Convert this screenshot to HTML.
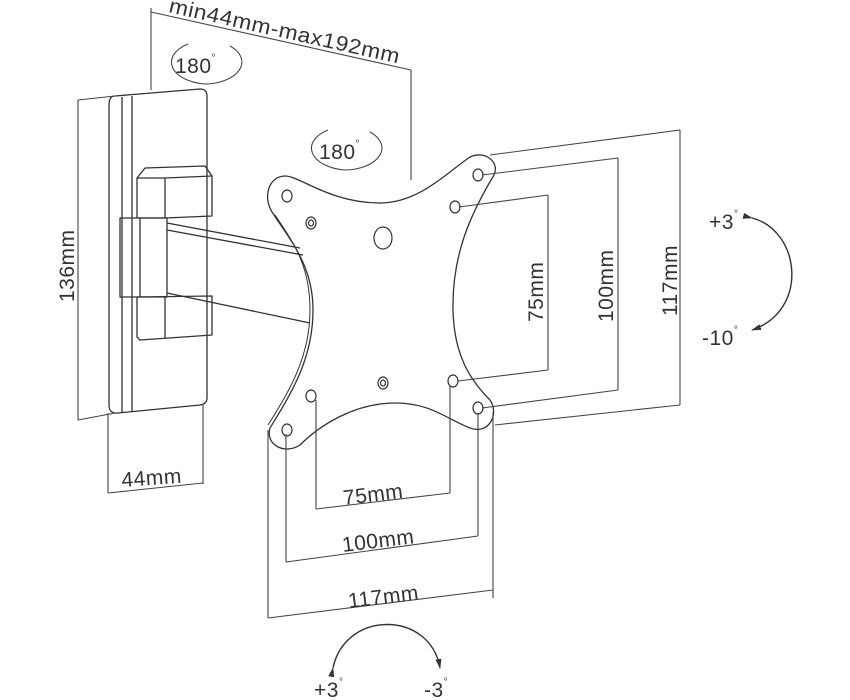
<!DOCTYPE html>
<html><head><meta charset="utf-8"><style>
html,body{margin:0;padding:0;background:#fff}
svg{display:block}
text{font-family:"Liberation Sans",sans-serif;fill:#333;font-size:21px;letter-spacing:0.5px}
</style></head><body>
<svg width="850" height="700" viewBox="0 0 850 700" xmlns="http://www.w3.org/2000/svg">
<defs>
<marker id="ah" markerWidth="10" markerHeight="8" refX="9" refY="4" orient="auto" markerUnits="userSpaceOnUse"><path d="M0,1 L10,4 L0,7 Z" fill="#333"/></marker>
</defs>
<g fill="none" stroke="#333" stroke-width="1.3" stroke-linejoin="round">
<path d="M115,96 L200,89 Q207,89 207,96 L207,398 Q207,404 200,405 L118,413 Q109,414 109,405 L109,105 Q109,96 115,96 Z"/>
<path d="M122,97 L122,412 M132,96 L132,411"/>
<path d="M137,178 L145,168 L205,166 L212,176 L212,216 L165,218 L137,218 Z"/>
<path d="M137,178 L165,178 L212,176 M165,178 L165,218"/>
<path d="M120,218 L167,218 L167,297 L120,297 Z M140,218 L140,297"/>
<path d="M167,223 L300,248 M167,230 L303,255 M167,293 L310,323"/>
<path d="M137,297 L212,296 L212,335 L140,340 L137,337 Z M165,297 L165,338"/>
<path d="M285,176 C300,176 330,203 380,203 C420,203 450,170 470,157 C485,150 500,162 494,175 C470,215 452,255 453,310 C454,355 470,380 490,400 C500,415 488,435 470,428 C445,418 430,403 395,403 C355,403 320,425 300,445 C285,455 265,445 270,428 C290,395 313,360 313,310 C313,265 290,240 272,212 C262,195 270,176 285,176 Z"/>
<path d="M275,215 C293,242 310,265 310,310 C310,358 288,393 268,425" stroke-width="1"/>
<g stroke-width="1.2">
<ellipse cx="287" cy="196" rx="5" ry="6"/>
<ellipse cx="311" cy="223" rx="5" ry="6"/><ellipse cx="311" cy="223" rx="2.5" ry="3"/>
<ellipse cx="383" cy="238" rx="9" ry="11"/>
<ellipse cx="478" cy="175" rx="5" ry="6"/>
<ellipse cx="455" cy="207" rx="5" ry="6"/>
<ellipse cx="311" cy="396" rx="5" ry="6"/>
<ellipse cx="383" cy="383" rx="5" ry="6"/><ellipse cx="383" cy="383" rx="2.5" ry="3"/>
<ellipse cx="453" cy="381" rx="5" ry="6"/>
<ellipse cx="478" cy="408" rx="5" ry="6"/>
<ellipse cx="287" cy="430" rx="5" ry="6"/>
</g>
</g>
<g fill="none" stroke="#444" stroke-width="1.1">
<path d="M78,100 L115,96 M78,420 L115,413 M78,100 L78,420"/>
<path d="M151,8 L151,90 M411,70 L411,180 M151,12 L411,70"/>
<path d="M108,413 L108,493 M203,404 L203,484 M108,493 L203,483"/>
<path d="M316,400 L316,509 M450,386 L450,493 M316,509 L450,493"/>
<path d="M286,434 L286,562 M478,413 L478,536 M286,562 L478,536"/>
<path d="M268,430 L268,618 M493,412 L493,598 M268,618 L493,590"/>
<path d="M459,207 L548,195 M548,195 L548,370 M458,381 L548,370"/>
<path d="M482,175 L618,158 M618,158 L618,390 M482,408 L618,390"/>
<path d="M490,155 L680,130 M680,130 L680,405 M495,425 L680,405"/>
<path d="M188,44 A38,22 0 0 0 205,84 A38,22 0 0 0 230,46"/>
<path d="M328,130 A38,22 0 0 0 345,170 A38,22 0 0 0 370,132"/>
</g>
<g fill="none" stroke="#333" stroke-width="1.4">
<path d="M752,218 C800,230 810,310 752,330" marker-start="url(#ah)" marker-end="url(#ah)"/>
<path d="M333,668 C345,610 430,610 440,668" marker-start="url(#ah)" marker-end="url(#ah)"/>
</g>
<text transform="translate(74,302) rotate(-90)">136mm</text>
<text transform="translate(168,12) rotate(12.6)" textLength="236" lengthAdjust="spacingAndGlyphs">min44mm-max192mm</text>
<text x="175" y="73">180<tspan font-size="10" dy="-12">°</tspan></text>
<text x="319" y="159">180<tspan font-size="10" dy="-12">°</tspan></text>
<text transform="translate(122,487) rotate(-4)">44mm</text>
<text transform="translate(344,505) rotate(-7)">75mm</text>
<text transform="translate(343,552) rotate(-7)">100mm</text>
<text transform="translate(349,608) rotate(-7)">117mm</text>
<text transform="translate(543,322) rotate(-90)">75mm</text>
<text transform="translate(613,322) rotate(-90)">100mm</text>
<text transform="translate(677,316) rotate(-90)">117mm</text>
<text x="709" y="229">+3<tspan font-size="10" dy="-12">°</tspan></text>
<text x="702" y="345">-10<tspan font-size="10" dy="-12">°</tspan></text>
<text x="314" y="697">+3<tspan font-size="10" dy="-12">°</tspan></text>
<text x="424" y="697">-3<tspan font-size="10" dy="-12">°</tspan></text>
</svg>
</body></html>
